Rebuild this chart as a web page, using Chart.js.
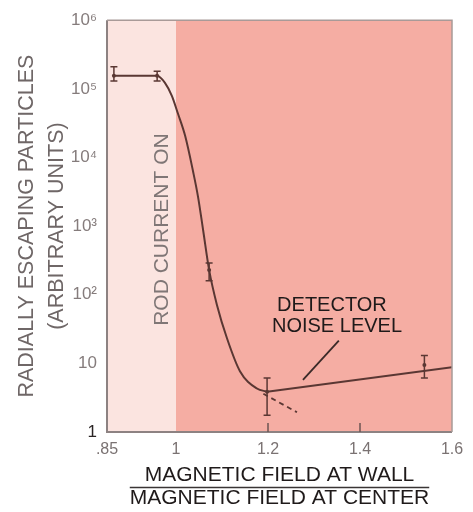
<!DOCTYPE html>
<html>
<head>
<meta charset="utf-8">
<script src="https://cdn.jsdelivr.net/npm/chart.js@4/dist/chart.umd.min.js"></script>
<style>
  html, body { margin: 0; padding: 0; background: #ffffff; }
  canvas { display: block; }
</style>
</head>
<body>
<canvas id="chart" width="473" height="512"></canvas>
<script>
// Escaping-particle signal vs. field ratio (wall / center)
const curveX = [0.865, 0.959, 0.976, 0.991, 1.004, 1.020, 1.037, 1.048, 1.059, 1.072, 1.089, 1.111, 1.139, 1.176, 1.198];
const curveY = [1.55e5, 1.55e5, 1.22e5, 7.9e4, 4.4e4, 2.05e4, 6300, 2650, 870, 230, 71, 23, 7.7, 4.3, 3.87];

// detector noise floor
const noiseX = [1.198, 1.6];
const noiseY = [3.87, 8.8];

// extrapolated signal below the noise floor
const extrapX = [1.19, 1.263];
const extrapY = [3.6, 1.94];

// leader from the "noise level" note to the line
const leaderX = [1.276, 1.354];
const leaderY = [5.75, 21.5];

// measured points with error bars
const errX   = [0.865, 0.959, 1.072, 1.198, 1.54];
const errMid = [1.55e5, 1.55e5, 230, 3.87, 9.5];
const errLo  = [1.3e5, 1.3e5, 160, 1.75, 6.1];
const errHi  = [2.1e5, 1.8e5, 290, 6.1, 13];

// axis ticks
const xTicks = [0.85, 1, 1.2, 1.4, 1.6];
const xTickLabels = ['.85', '1', '1.2', '1.4', '1.6'];
const xInnerTicks = [1.2, 1.4];
const yTicks = [1, 10, 100, 1000, 1e4, 1e5, 1e6];
const yTickLabels = ['1', '10', '10²', '10³', '10⁴', '10⁵', '10⁶'];

// shaded field-ratio regions: before and after rod current is switched on
const bandEdges = [0.85, 1, 1.6];
const bandColors = ['#fbe4e0', '#f5ada3'];

const pts = (xs, ys) => xs.map((v, i) => ({ x: v, y: ys[i] }));

const FONT = "'Liberation Sans', Arial, sans-serif";
const INK = '#5a3733';

const backdrop = {
  id: 'backdrop',
  beforeDraw(chart) {
    const { ctx, chartArea: a, scales: { x } } = chart;
    ctx.save();
    for (let i = 0; i < bandColors.length; i++) {
      const x0 = x.getPixelForValue(bandEdges[i]);
      const x1 = x.getPixelForValue(bandEdges[i + 1]);
      ctx.fillStyle = bandColors[i];
      ctx.fillRect(x0, a.top, x1 - x0, a.bottom - a.top);
    }
    ctx.restore();
  }
};

const errorBars = {
  id: 'errorBars',
  afterDatasetsDraw(chart) {
    const { ctx, scales: { x, y } } = chart;
    ctx.save();
    ctx.strokeStyle = INK;
    ctx.lineWidth = 1.5;
    errX.forEach((v, i) => {
      const px = x.getPixelForValue(v);
      const top = y.getPixelForValue(errHi[i]);
      const bot = y.getPixelForValue(errLo[i]);
      ctx.beginPath();
      ctx.moveTo(px, top); ctx.lineTo(px, bot);
      ctx.moveTo(px - 3.5, top); ctx.lineTo(px + 3.5, top);
      ctx.moveTo(px - 3.5, bot); ctx.lineTo(px + 3.5, bot);
      ctx.stroke();
    });
    ctx.restore();
  }
};

const frameAndNotes = {
  id: 'frameAndNotes',
  afterDraw(chart) {
    const { ctx, chartArea: a, scales: { x, y } } = chart;
    ctx.save();
    // frame
    ctx.strokeStyle = '#8d8282';
    ctx.lineWidth = 2;
    ctx.beginPath();
    ctx.moveTo(a.left, a.top); ctx.lineTo(a.left, a.bottom); ctx.lineTo(a.right, a.bottom);
    ctx.stroke();
    ctx.lineWidth = 1.5;
    ctx.strokeStyle = '#a89a98';
    ctx.beginPath();
    ctx.moveTo(a.left, a.top); ctx.lineTo(a.right, a.top); ctx.lineTo(a.right, a.bottom);
    ctx.stroke();

    // short inner ticks on the field axis
    ctx.strokeStyle = '#6b5552';
    ctx.lineWidth = 1.5;
    xInnerTicks.forEach(v => {
      const px = x.getPixelForValue(v);
      ctx.beginPath();
      ctx.moveTo(px, a.bottom); ctx.lineTo(px, a.bottom - 9);
      ctx.stroke();
    });

    // ROD CURRENT ON
    ctx.fillStyle = '#7f7676';
    ctx.font = '21px ' + FONT;
    ctx.textAlign = 'center';
    ctx.textBaseline = 'middle';
    ctx.save();
    ctx.translate(x.getPixelForValue(0.97), y.getPixelForValue(890));
    ctx.rotate(-Math.PI / 2);
    ctx.fillText('ROD CURRENT ON', 0, 0);
    ctx.restore();

    // detector note
    ctx.fillStyle = '#1f1a1a';
    ctx.font = '20px ' + FONT;
    ctx.fillText('DETECTOR', x.getPixelForValue(1.339), y.getPixelForValue(70.5));
    ctx.fillText('NOISE LEVEL', x.getPixelForValue(1.35), y.getPixelForValue(34));

    // fraction bar between the two lines of the field-axis title
    ctx.font = '21px ' + FONT;
    const w = ctx.measureText('MAGNETIC FIELD AT CENTER').width;
    const cx = (a.left + a.right) / 2;
    ctx.strokeStyle = '#3a3535';
    ctx.lineWidth = 1.5;
    ctx.beginPath();
    ctx.moveTo(cx - w / 2, 487.5); ctx.lineTo(cx + w / 2, 487.5);
    ctx.stroke();
    ctx.restore();
  }
};

new Chart(document.getElementById('chart'), {
  type: 'scatter',
  data: {
    datasets: [
      { data: pts(curveX, curveY), showLine: true, borderColor: INK, borderWidth: 2,
        pointRadius: 0, cubicInterpolationMode: 'monotone' },
      { data: pts(noiseX, noiseY), showLine: true, borderColor: INK, borderWidth: 2,
        pointRadius: 0, tension: 0 },
      { data: pts(extrapX, extrapY), showLine: true, borderColor: INK, borderWidth: 1.8,
        borderDash: [5, 4], pointRadius: 0, tension: 0 },
      { data: pts(leaderX, leaderY), showLine: true, borderColor: '#3b2a28', borderWidth: 1.8,
        pointRadius: 0, tension: 0 },
      { data: pts(errX, errMid), showLine: false, pointRadius: 2,
        pointBackgroundColor: INK, pointBorderWidth: 0 }
    ]
  },
  options: {
    responsive: false,
    animation: false,
    events: [],
    layout: { padding: { left: 0, top: 13, right: 21, bottom: 0 } },
    plugins: { legend: { display: false }, tooltip: { enabled: false } },
    scales: {
      x: {
        type: 'linear',
        min: 0.85, max: 1.6,
        afterBuildTicks: s => { s.ticks = xTicks.map(v => ({ value: v })); },
        afterFit: s => { s.height = 80; },
        grid: { display: false, drawTicks: false },
        border: { display: false },
        ticks: {
          padding: 8,
          color: '#7a7272',
          font: { family: FONT, size: 16 },
          maxRotation: 0,
          autoSkip: false,
          callback: (v, i) => xTickLabels[i]
        },
        title: {
          display: true,
          text: ['MAGNETIC FIELD AT WALL', 'MAGNETIC FIELD AT CENTER'],
          color: '#1f1a1a',
          font: { family: FONT, size: 21, lineHeight: 1.1 },
          padding: { top: 0, bottom: 2 }
        }
      },
      y: {
        type: 'logarithmic',
        min: 1, max: 1e6,
        afterBuildTicks: s => { s.ticks = yTicks.map(v => ({ value: v })); },
        afterFit: s => { s.width = 107; },
        grid: { display: false, drawTicks: false },
        border: { display: false },
        ticks: {
          padding: 10,
          color: ctx => (ctx.index === 0 ? '#2a2424' : '#857c7c'),
          font: { family: FONT, size: 17 },
          autoSkip: false,
          callback: (v, i) => yTickLabels[i]
        },
        title: {
          display: true,
          text: ['RADIALLY ESCAPING PARTICLES', '(ARBITRARY UNITS)'],
          color: '#6f6767',
          font: { family: FONT, size: 21.5, lineHeight: 1.4 },
          padding: { top: 12, bottom: 0 }
        }
      }
    }
  },
  plugins: [backdrop, errorBars, frameAndNotes]
});
</script>
</body>
</html>
